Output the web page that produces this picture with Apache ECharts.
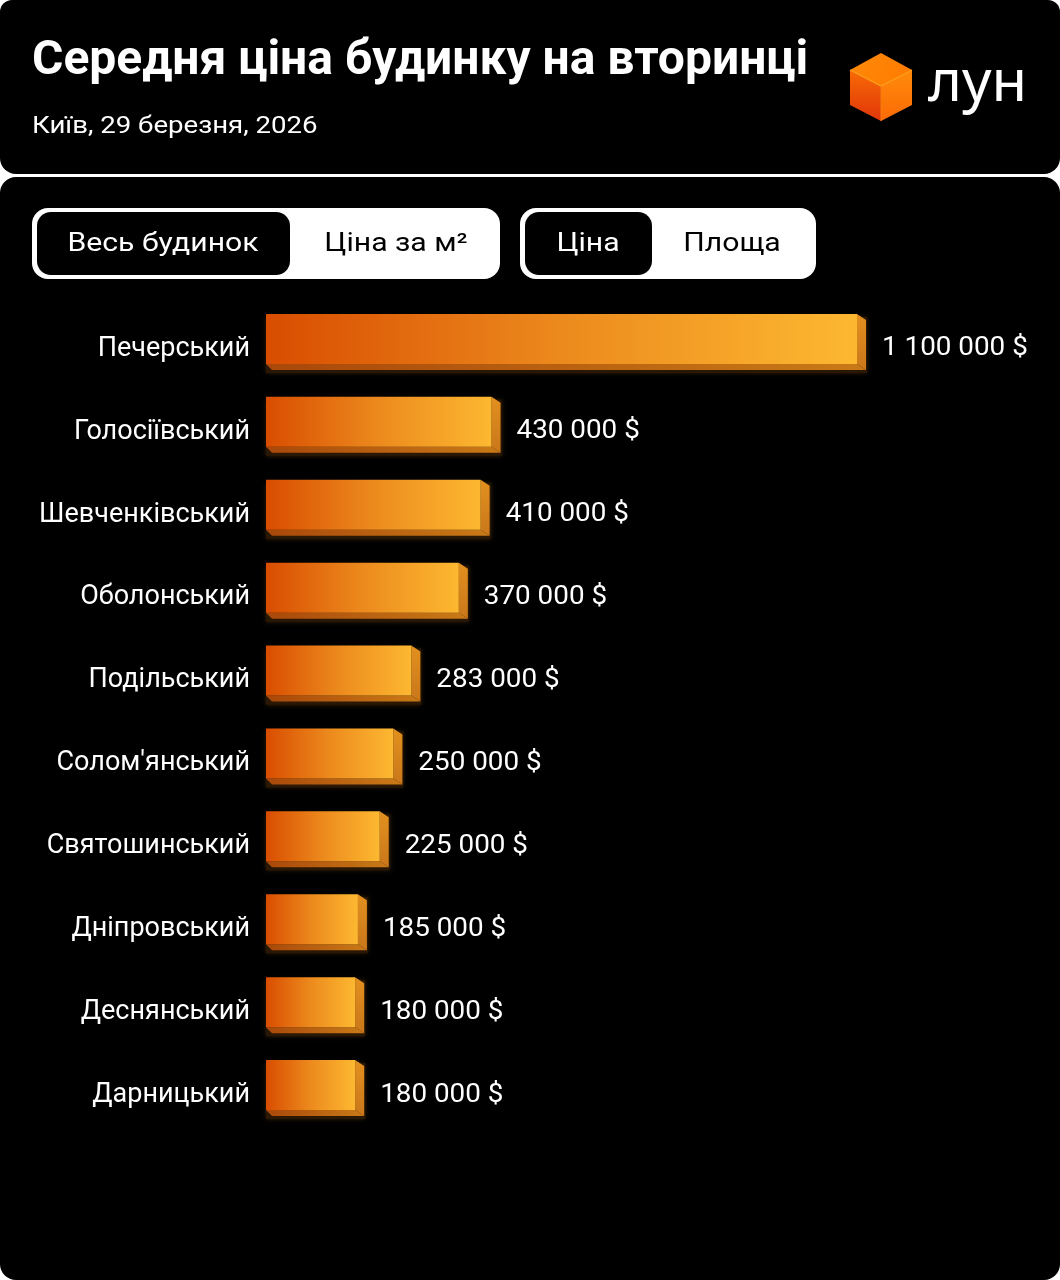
<!DOCTYPE html>
<html>
<head>
<meta charset="utf-8">
<script src="https://cdn.jsdelivr.net/npm/echarts@6/dist/echarts.min.js"></script>
<style>
html,body{margin:0;padding:0;background:#ffffff;}
#chart{width:1060px;height:1280px;}
</style>
</head>
<body>
<div id="chart"></div>
<script>
const categories = ['Печерський','Голосіївський','Шевченківський','Оболонський','Подільський','Солом\'янський','Святошинський','Дніпровський','Деснянський','Дарницький'];
const prices = [1100000, 430000, 410000, 370000, 283000, 250000, 225000, 185000, 180000, 180000];
const titleText = 'Середня ціна будинку на вторинці';
const subtitleText = 'Київ, 29 березня, 2026';
const toggleA = ['Весь будинок', 'Ціна за м²'];
const toggleB = ['Ціна', 'Площа'];
const logoText = 'лун';

const FONT = 'Roboto, "Noto Sans", sans-serif';

function fmt(v) {
  return String(v).replace(/\B(?=(\d{3})+(?!\d))/g, ' ') + ' $';
}

const chart = echarts.init(document.getElementById('chart'), null, {renderer: 'canvas'});

function renderBar(params, api) {
  const idx = api.value(1);
  const start = api.coord([0, idx]);
  const end = api.coord([api.value(0), idx]);
  const cy = start[1];
  const x0 = start[0];
  const xe = end[0];
  const s = 9, d = 6;
  const x1 = xe - s;
  const top = cy - 35, bot = cy + 15;
  return {
    type: 'group',
    children: [
      {
        type: 'rect',
        shape: {x: x0, y: top + 3, width: xe - x0 + 1, height: bot - top + d},
        style: {fill: '#2a1804', shadowBlur: 4, shadowColor: 'rgba(60,35,5,0.9)'}
      },
      {
        type: 'polygon',
        shape: {points: [[x0, bot], [x1, bot], [xe, bot + d], [x0 + d, bot + d]]},
        style: {fill: new echarts.graphic.LinearGradient(0, 0, 1, 0, [
          {offset: 0, color: '#a9480a'}, {offset: 1, color: '#c97a17'}
        ])}
      },
      {
        type: 'polygon',
        shape: {points: [[x1, top], [xe, top + d], [xe, bot + d], [x1, bot]]},
        style: {fill: new echarts.graphic.LinearGradient(0, 0, 0, 1, [
          {offset: 0, color: '#e3901f'}, {offset: 1, color: '#c9771a'}
        ])}
      },
      {
        type: 'rect',
        shape: {x: x0, y: top, width: x1 - x0, height: bot - top},
        style: {fill: new echarts.graphic.LinearGradient(0, 0, 1, 0, [
          {offset: 0, color: '#d94d01'}, {offset: 0.5, color: '#ec8a1d'}, {offset: 1, color: '#fdb831'}
        ])}
      },
      {
        type: 'text',
        x: xe + 16,
        y: cy,
        scaleX: 1.07,
        style: {
          text: fmt(api.value(0)),
          fill: '#ffffff',
          font: '400 26px ' + FONT,
          verticalAlign: 'middle',
          align: 'left'
        }
      }
    ]
  };
}

function txt(x, y, text, color, font, align, sx) {
  return {type: 'text', x: x, y: y, scaleX: sx || 1, style: {text: text, fill: color, font: font, align: align || 'left', verticalAlign: 'middle'}};
}

const option = {
  backgroundColor: '#ffffff',
  animation: false,
  grid: {left: 266, right: 194, top: 307.5, bottom: 143.5, containLabel: false},
  xAxis: {type: 'value', min: 0, max: 1100000, show: false},
  yAxis: {
    type: 'category',
    data: categories,
    inverse: true,
    axisLine: {show: false},
    axisTick: {show: false},
    splitLine: {show: false},
    axisLabel: {color: '#ffffff', fontSize: 27, fontFamily: FONT, margin: 16, fontWeight: 400}
  },
  graphic: [
    {type: 'rect', z: -10, shape: {x: 0, y: 0, width: 1060, height: 174, r: [12, 12, 16, 16]}, style: {fill: '#000000'}},
    {type: 'rect', z: -10, shape: {x: 0, y: 177, width: 1060, height: 1103, r: [16, 16, 16, 16]}, style: {fill: '#000000'}},
    txt(32, 62, titleText, '#ffffff', '700 48px ' + FONT),
    txt(32, 127, subtitleText, '#ffffff', '400 24px ' + FONT, 'left', 1.15),
    // logo cube
    {type: 'polygon', shape: {points: [[881, 53], [912, 70], [881, 86], [850, 70]]},
      style: {fill: new echarts.graphic.LinearGradient(0, 0, 1, 1, [{offset: 0, color: '#ff8a08'}, {offset: 1, color: '#ff7a00'}])}},
    {type: 'polygon', shape: {points: [[850, 70], [881, 86], [881, 121], [850, 105]]},
      style: {fill: new echarts.graphic.LinearGradient(0, 0, 0, 1, [{offset: 0, color: '#f86a05'}, {offset: 1, color: '#e0360a'}])}},
    {type: 'polygon', shape: {points: [[881, 86], [912, 70], [912, 105], [881, 121]]},
      style: {fill: new echarts.graphic.LinearGradient(0, 0, 0, 1, [{offset: 0, color: '#ff8c0a'}, {offset: 1, color: '#fb6a06'}])}},
    {type: 'polyline', shape: {points: [[850, 70], [881, 86], [912, 70]]}, style: {stroke: '#ffa020', lineWidth: 1.2, fill: null}},
    {type: 'polyline', shape: {points: [[881, 86], [881, 121]]}, style: {stroke: '#f37a10', lineWidth: 1, fill: null}},
    txt(928, 84, logoText, '#ffffff', '400 58px "Noto Sans", Inter, sans-serif'),
    // toggle A
    {type: 'rect', shape: {x: 32, y: 208, width: 468, height: 71, r: 16}, style: {fill: '#ffffff'}},
    {type: 'rect', shape: {x: 37, y: 212, width: 253, height: 63, r: 14}, style: {fill: '#000000'}},
    {type: 'text', x: 163, y: 244, scaleX: 1.16, style: {text: toggleA[0], fill: '#ffffff', font: '400 26px ' + FONT, align: 'center', verticalAlign: 'middle'}},
    {type: 'text', x: 396, y: 244, scaleX: 1.16, style: {text: toggleA[1], fill: '#000000', font: '400 26px ' + FONT, align: 'center', verticalAlign: 'middle'}},
    // toggle B
    {type: 'rect', shape: {x: 520, y: 208, width: 296, height: 71, r: 16}, style: {fill: '#ffffff'}},
    {type: 'rect', shape: {x: 525, y: 212, width: 127, height: 63, r: 14}, style: {fill: '#000000'}},
    {type: 'text', x: 588, y: 244, scaleX: 1.16, style: {text: toggleB[0], fill: '#ffffff', font: '400 26px ' + FONT, align: 'center', verticalAlign: 'middle'}},
    {type: 'text', x: 732, y: 244, scaleX: 1.16, style: {text: toggleB[1], fill: '#000000', font: '400 26px ' + FONT, align: 'center', verticalAlign: 'middle'}}
  ],
  series: [{
    type: 'custom',
    renderItem: renderBar,
    encode: {x: 0, y: 1},
    data: prices.map((v, i) => [v, i]),
    clip: false
  }]
};
chart.setOption(option);
</script>
</body>
</html>
